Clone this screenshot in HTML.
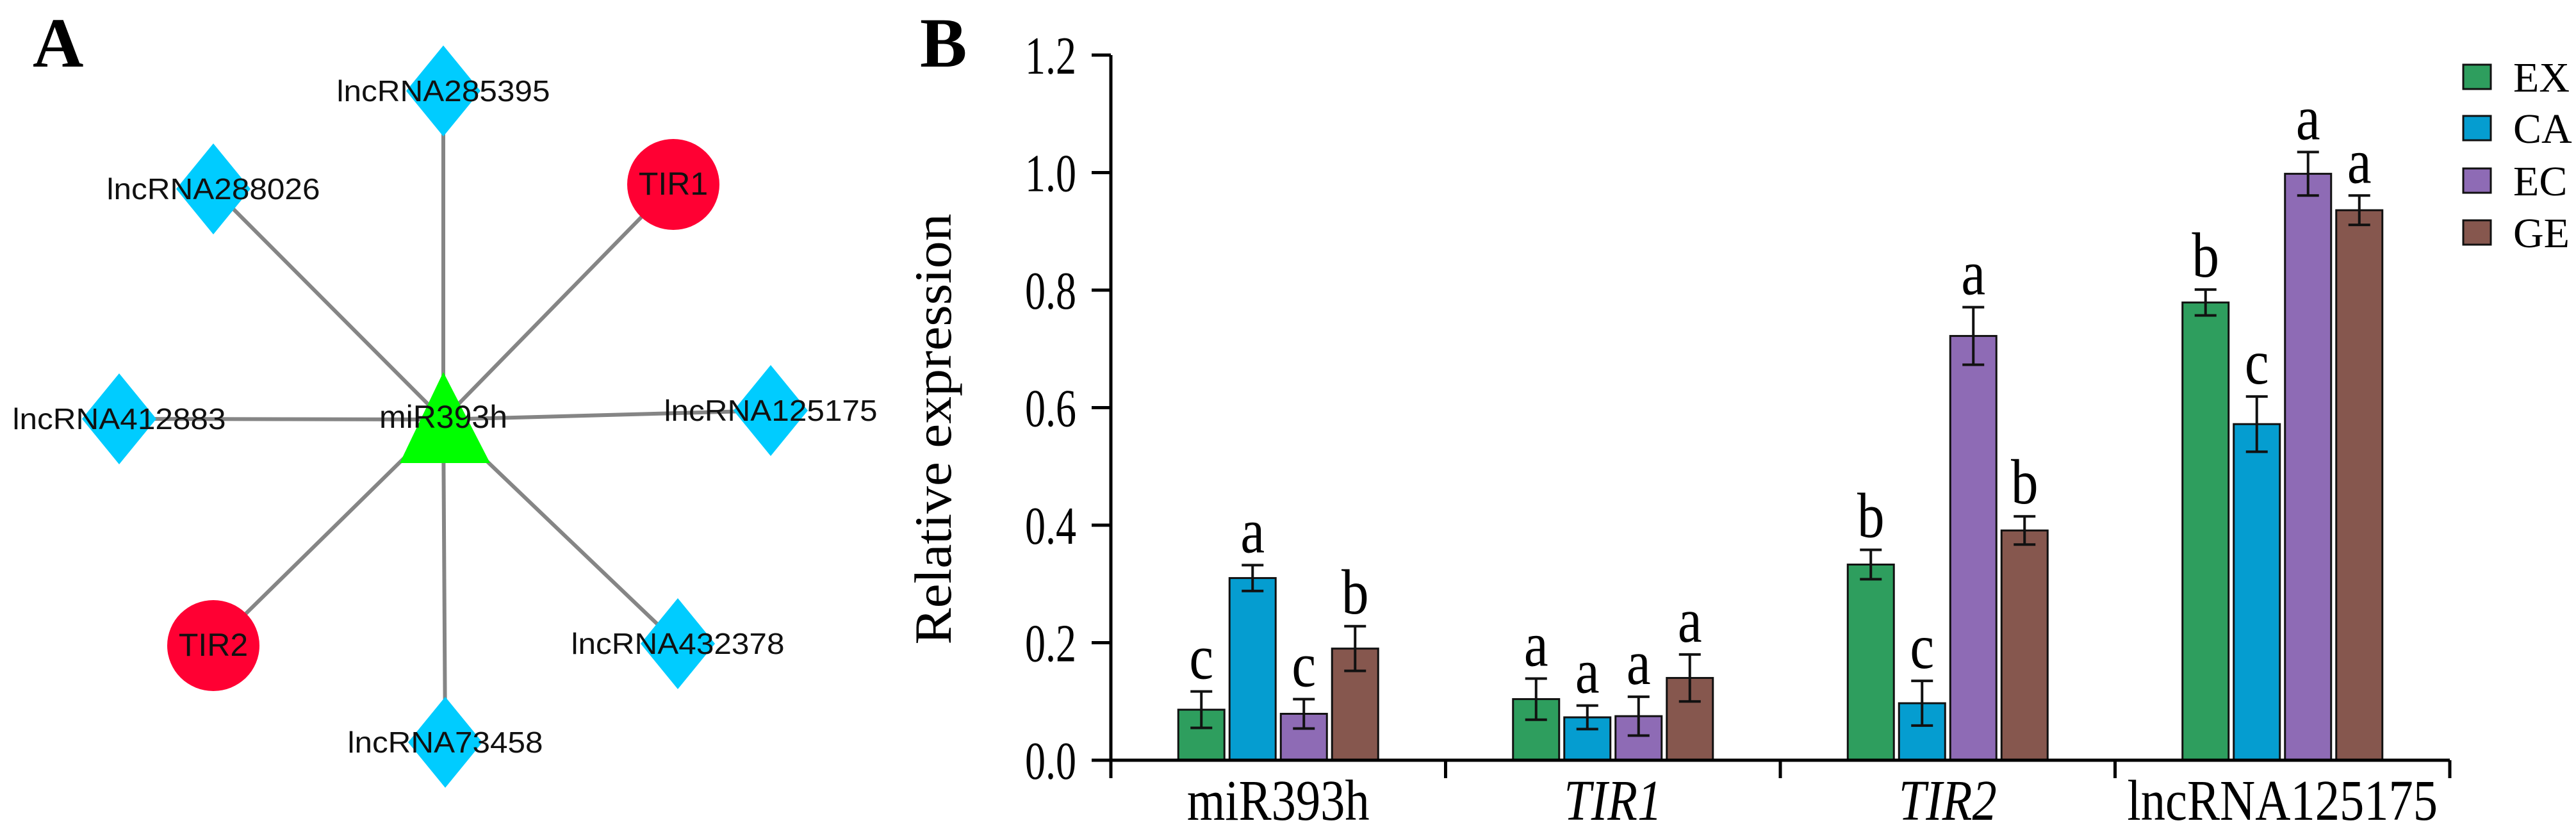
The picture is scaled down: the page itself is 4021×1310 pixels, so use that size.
<!DOCTYPE html>
<html><head><meta charset="utf-8"><style>
html,body{margin:0;padding:0;background:#fff;}
svg{display:block;}
</style></head><body>
<svg id="fig" width="4021" height="1310" viewBox="0 0 4021 1310" xmlns="http://www.w3.org/2000/svg">
<rect width="4021" height="1310" fill="#fff"/>
<text x="51" y="104" font-family="Liberation Serif, serif" font-weight="bold" font-size="110">A</text>
<text x="1436" y="104" font-family="Liberation Serif, serif" font-weight="bold" font-size="110">B</text>
<g id="network"></g>
<g id="chart"></g>
</svg>
<script>
const NS='http://www.w3.org/2000/svg';
function mk(tag,attrs,parent){const e=document.createElementNS(NS,tag);for(const k in attrs)e.setAttribute(k,attrs[k]);parent.appendChild(e);return e;}

// ---------- Network ----------
const net=document.getElementById('network');
const hub={x:692,y:655};
const nodeNames=['lncRNA285395','lncRNA288026','lncRNA412883','lncRNA125175','lncRNA432378','lncRNA73458','TIR1','TIR2'];
const nodeKinds=['d','d','d','d','d','d','c','c'];
const nodeX=[692,333,186,1203,1058,695,1051,333];
const nodeY=[142,295,654,641,1005,1159,288,1008];
for(let i=0;i<nodeNames.length;i++){
  const l=mk('line',{x1:hub.x,y1:hub.y,x2:nodeX[i],y2:nodeY[i],stroke:'#858585','stroke-width':6},net);
  
  
}
const tri=mk('polygon',{points:'692,581 624,723 765,723',fill:'#00FF00'},net);


for(let i=0;i<nodeNames.length;i++){
  const x=nodeX[i],y=nodeY[i];let n;
  if(nodeKinds[i]==='d'){
    n=mk('polygon',{points:`${x},${y-71} ${x+58},${y} ${x},${y+71} ${x-58},${y}`,fill:'#00CCFF'},net);
  }else{
    n=mk('ellipse',{cx:x,cy:y,rx:72,ry:71,fill:'#FF0033'},net);
  }
  
  
}
const labs=nodeNames.concat(['miR393h']);
const labX=nodeX.concat([692]);
const labY=nodeY.concat([652]);
for(let i=0;i<labs.length;i++){
  const isLnc=labs[i].startsWith('lnc');
  const t=mk('text',{x:labX[i],y:labY[i]+16,'text-anchor':'middle','font-family':'Liberation Sans, sans-serif','font-size':isLnc?46:50,fill:'#111'},net);
  if(isLnc){t.setAttribute('textLength',labs[i].length===11?305:333);t.setAttribute('lengthAdjust','spacingAndGlyphs');}
  t.textContent=labs[i];
  
  
}

// ---------- Bar chart ----------
const categories=['miR393h','TIR1','TIR2','lncRNA125175'];
const series=['EX','CA','EC','GE'];
const colors=['#2E9E5E','#059DD0','#8E6BB5','#86574E'];
const valEX=[0.086,0.104,0.333,0.779];
const valCA=[0.310,0.073,0.097,0.572];
const valEC=[0.079,0.075,0.722,0.998];
const valGE=[0.190,0.140,0.391,0.936];
const errEX=[0.031,0.035,0.025,0.022];
const errCA=[0.022,0.020,0.038,0.047];
const errEC=[0.025,0.033,0.049,0.037];
const errGE=[0.038,0.040,0.024,0.025];
const sigEX=['c','a','b','b'];
const sigCA=['a','a','c','c'];
const sigEC=['c','a','a','a'];
const sigGE=['b','a','b','a'];
const yTicks=[0.0,0.2,0.4,0.6,0.8,1.0,1.2];
const yTickLabels=['0.0','0.2','0.4','0.6','0.8','1.0','1.2'];

const vals=[valEX,valCA,valEC,valGE],errs=[errEX,errCA,errEC,errGE],sigs=[sigEX,sigCA,sigEC,sigGE];
const ch=document.getElementById('chart');
const X0=1734,X1=3824,Y0=1187,Ytop=86,YMAX=1.2;
const y=v=>Y0-(v/YMAX)*(Y0-Ytop);
const gw=(X1-X0)/categories.length;
const barW=72,barStep=80;
const bx=(c,s)=>X0+gw*c+gw/2-2*barStep+(barStep-barW)/2+s*barStep;

for(let c=0;c<categories.length;c++){
  for(let s=0;s<series.length;s++){
    const v=vals[s][c],e=errs[s][c],x=bx(c,s),cx=x+barW/2;
    const r=mk('rect',{x:x,y:y(v),width:barW,height:Y0-y(v),fill:colors[s],stroke:'#111','stroke-width':3},ch);
    
    
    const g=mk('g',{stroke:'#111','stroke-width':4},ch);
    
    
    mk('line',{x1:cx,x2:cx,y1:y(v+e),y2:y(v-e)},g);
    mk('line',{x1:cx-17,x2:cx+17,y1:y(v+e),y2:y(v+e)},g);
    mk('line',{x1:cx-17,x2:cx+17,y1:y(v-e),y2:y(v-e)},g);
    const t=mk('text',{x:0,y:0,transform:`translate(${cx},${y(v+e)-20}) scale(0.85,1)`,'text-anchor':'middle','font-family':'Liberation Serif, serif','font-size':100,fill:'#000'},ch);
    t.textContent=sigs[s][c];
    
    
  }
}
// axes
const ax=mk('g',{stroke:'#000','stroke-width':5},ch);


mk('line',{x1:X0,x2:X0,y1:Ytop,y2:1215},ax);
mk('line',{x1:1704,x2:X1,y1:Y0,y2:Y0},ax);
for(let i=0;i<yTicks.length;i++){
  const yy=y(yTicks[i]);
  mk('line',{x1:1704,x2:X0,y1:yy,y2:yy},ax);
  const t=mk('text',{x:1680,y:yy+29,'text-anchor':'end','font-family':'Liberation Serif, serif','font-size':84,textLength:80,lengthAdjust:'spacingAndGlyphs',fill:'#000'},ch);
  t.textContent=yTickLabels[i];
  
  
}
for(let c=0;c<=categories.length;c++){
  const xx=X0+gw*c;
  mk('line',{x1:xx,x2:xx,y1:Y0,y2:1215},ax);
}
for(let c=0;c<categories.length;c++){
  const t=mk('text',{x:0,y:0,transform:`translate(${X0+gw*c+gw/2},1280) scale(0.85,1)`,'text-anchor':'middle','font-family':'Liberation Serif, serif','font-size':90,fill:'#000'},ch);
  if(categories[c].startsWith('TIR'))t.setAttribute('font-style','italic');
  t.textContent=categories[c];
  
  
}
const yt=mk('text',{x:0,y:0,transform:'translate(1484,670) rotate(-90)','text-anchor':'middle','font-family':'Liberation Serif, serif','font-size':82,textLength:673,lengthAdjust:'spacingAndGlyphs',fill:'#000'},ch);
yt.textContent='Relative expression';


// legend
const legY=[120,200,282,363];
for(let s=0;s<series.length;s++){
  const g=mk('g',{},ch);
  
  
  mk('rect',{x:3845,y:legY[s]-19,width:43,height:38,fill:colors[s],stroke:'#111','stroke-width':3},g);
  const t=mk('text',{x:3923,y:legY[s]+23,'font-family':'Liberation Serif, serif','font-size':66,fill:'#000'},g);
  t.textContent=series[s];
}
</script>
</body></html>
